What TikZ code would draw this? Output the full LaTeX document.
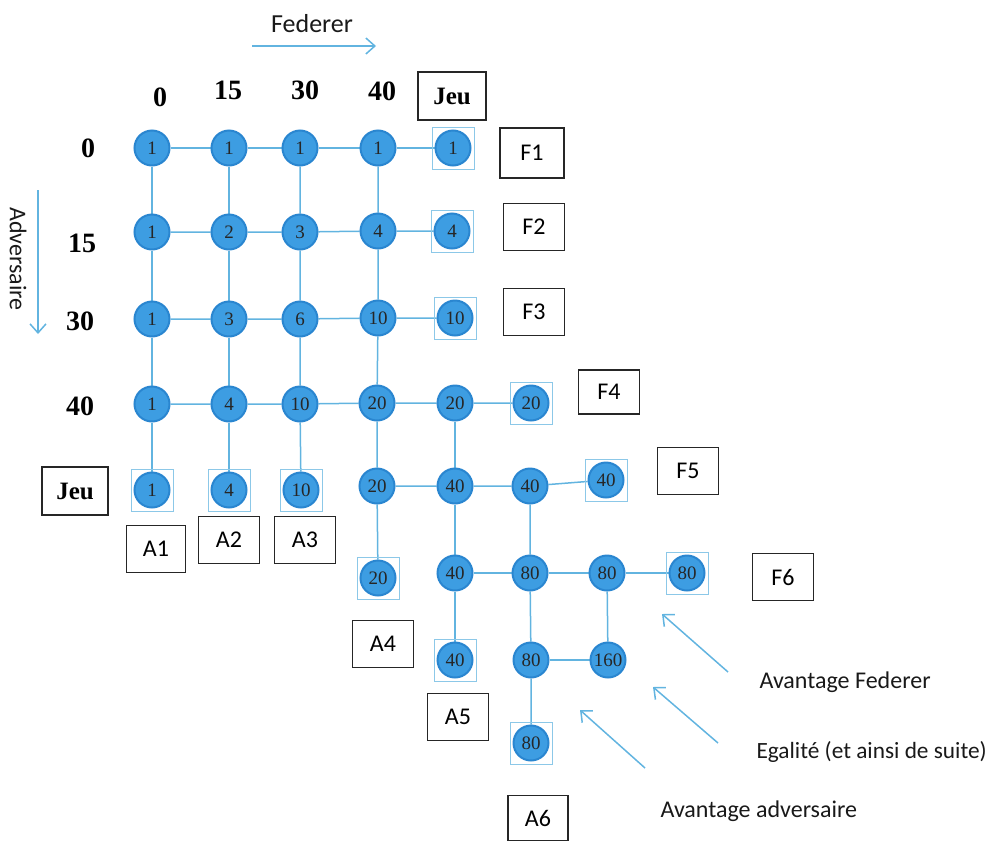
\documentclass[tikz,border=0pt]{standalone}
\usepackage{fontspec}
\setmainfont{Liberation Serif}
\newfontfamily\calfont{Carlito}
\usetikzlibrary{backgrounds,calc,arrows.meta}
\definecolor{dotfill}{HTML}{3D9DE2}
\definecolor{dotline}{HTML}{2A86D0}
\definecolor{edgec}{HTML}{62B4E0}
\definecolor{boxc}{HTML}{8CC8E8}
\tikzset{
  pt/.style={circle, fill=dotfill, draw=dotline, line width=2pt, minimum size=35pt, inner sep=0pt, font=\fontsize{19}{19}\selectfont, text=black!85},
  edge/.style={draw=edgec, line width=1.5pt},
  tbox/.style={draw=boxc, line width=1pt},
  hdr/.style={font=\fontsize{28}{28}\selectfont\bfseries},
  jeubox/.style={draw=black!85, line width=1.3pt, minimum width=68pt, minimum height=48pt, font=\fontsize{25}{25}\selectfont\bfseries},
  lbox/.style={draw=black!85, line width=1.2pt, minimum width=61pt, minimum height=47pt, font=\calfont\fontsize{24}{24}\selectfont},
  lbl/.style={font=\calfont\fontsize{24}{24}\selectfont, text=black!90},
  arr/.style={draw=edgec, line width=1.5pt, -{Straight Barb[length=9pt,width=16pt,line width=1.5pt]}}
}
\begin{document}
\begin{tikzpicture}[x=1pt,y=-1pt]
\useasboundingbox (0,0) rectangle (991,841);
% headers
\node[lbl, font=\calfont\fontsize{26}{26}\selectfont] (fed) at (312,24) {Federer};
\coordinate (fa) at (252,46); \coordinate (fb) at (376,46);
\draw[arr] (fa) -- (fb);
\node[lbl, rotate=-90] (adv) at (18,259) {Adversaire};
\coordinate (aa) at (38,190); \coordinate (ab) at (38,334);
\draw[arr] (aa) -- (ab);
\node[hdr] (h0) at (160,97) {0};
\node[hdr] (h15) at (228,90) {15};
\node[hdr] (h30) at (305,90) {30};
\node[hdr] (h40) at (382,91) {40};
\node[jeubox] (hj) at (452,96) {Jeu};
\node[hdr] (v0) at (88,148) {0};
\node[hdr] (v15) at (82,243) {15};
\node[hdr] (v30) at (80,321) {30};
\node[hdr] (v40) at (80,406) {40};
\node[jeubox, minimum width=66pt] (vj) at (75,491) {Jeu};
% nodes
\node[pt] (n00) at (152,148) {1};
\node[pt] (n10) at (229,148) {1};
\node[pt] (n20) at (300,148) {1};
\node[pt] (n30) at (378,148) {1};
\node[pt] (n40) at (453,148) {1};
\node[pt] (n01) at (152,232) {1};
\node[pt] (n11) at (229,232) {2};
\node[pt] (n21) at (300,232) {3};
\node[pt] (n31) at (378,231) {4};
\node[pt] (n41) at (452,231) {4};
\node[pt] (n02) at (152,319) {1};
\node[pt] (n12) at (229,319) {3};
\node[pt] (n22) at (300,319) {6};
\node[pt] (n32) at (378,318) {10};
\node[pt] (n42) at (455,318) {10};
\node[pt] (n03) at (152,404) {1};
\node[pt] (n13) at (229,404) {4};
\node[pt] (n23) at (300,404) {10};
\node[pt] (n33) at (377,403) {20};
\node[pt] (n43) at (455,403) {20};
\node[pt] (n53) at (531,403) {20};
\node[pt] (n04) at (152,490) {1};
\node[pt] (n14) at (229,490) {4};
\node[pt] (n24) at (301,490) {10};
\node[pt] (n34) at (377,486) {20};
\node[pt] (n44) at (455,486) {40};
\node[pt] (n54) at (530,486) {40};
\node[pt] (n64) at (606,480) {40};
\node[pt] (n35) at (378,578) {20};
\node[pt] (n45) at (455,573) {40};
\node[pt] (n55) at (530,573) {80};
\node[pt] (n65) at (607,573) {80};
\node[pt] (n75) at (687,573) {80};
\node[pt] (n46) at (455,660) {40};
\node[pt] (n56) at (531,660) {80};
\node[pt] (n66) at (608,660) {160};
\node[pt] (n57) at (531,743) {80};
\begin{scope}[on background layer]
\draw[edge] (n00) -- (n10) -- (n20) -- (n30) -- (n40);
\draw[edge] (n01) -- (n11) -- (n21) -- (n31) -- (n41);
\draw[edge] (n02) -- (n12) -- (n22) -- (n32) -- (n42);
\draw[edge] (n03) -- (n13) -- (n23) -- (n33) -- (n43) -- (n53);
\draw[edge] (n34) -- (n44) -- (n54) -- (n64);
\draw[edge] (n45) -- (n55) -- (n65) -- (n75);
\draw[edge] (n56) -- (n66);
\draw[edge] (n00) -- (n01) -- (n02) -- (n03) -- (n04);
\draw[edge] (n10) -- (n11) -- (n12) -- (n13) -- (n14);
\draw[edge] (n20) -- (n21) -- (n22) -- (n23) -- (n24);
\draw[edge] (n30) -- (n31) -- (n32) -- (n33) -- (n34) -- (n35);
\draw[edge] (n43) -- (n44) -- (n45) -- (n46);
\draw[edge] (n54) -- (n55) -- (n56) -- (n57);
\draw[edge] (n65) -- (n66);
\foreach \n in {n40,n41,n42,n53,n04,n14,n24,n64,n35,n75,n46,n57}
  \draw[tbox] ($(\n)+(-21,-21)$) rectangle ($(\n)+(21,21)$);
\end{scope}
% outcome boxes
\node[lbox, minimum width=64pt, minimum height=50pt] (F1) at (532,153) {F1};
\node[lbox] (F2) at (534,227) {F2};
\node[lbox] (F3) at (534,312) {F3};
\node[lbox, minimum height=44pt] (F4) at (609,392) {F4};
\node[lbox] (F5) at (688,471) {F5};
\node[lbox] (F6) at (783,577) {F6};
\node[lbox, minimum width=59pt] (A1) at (156,549) {A1};
\node[lbox] (A2) at (229,540) {A2};
\node[lbox] (A3) at (305,540) {A3};
\node[lbox] (A4) at (383,644) {A4};
\node[lbox] (A5) at (458,717) {A5};
\node[lbox, minimum width=60pt, minimum height=45pt] (A6) at (538,818) {A6};
% annotations
\node[lbl, anchor=west] (tf) at (756,682) {Avantage Federer};
\node[lbl, anchor=west, font=\calfont\fontsize{23.3}{23.3}\selectfont] (te) at (753,752) {Egalité (et ainsi de suite)};
\node[lbl, anchor=west] (ta) at (657,811) {Avantage adversaire};
\coordinate (p1) at (728,672); \coordinate (q1) at (662,614);
\coordinate (p2) at (718,743); \coordinate (q2) at (653,687);
\coordinate (p3) at (645,768); \coordinate (q3) at (580,710);
\draw[arr] (p1) -- (q1);
\draw[arr] (p2) -- (q2);
\draw[arr] (p3) -- (q3);
\end{tikzpicture}
\end{document}
